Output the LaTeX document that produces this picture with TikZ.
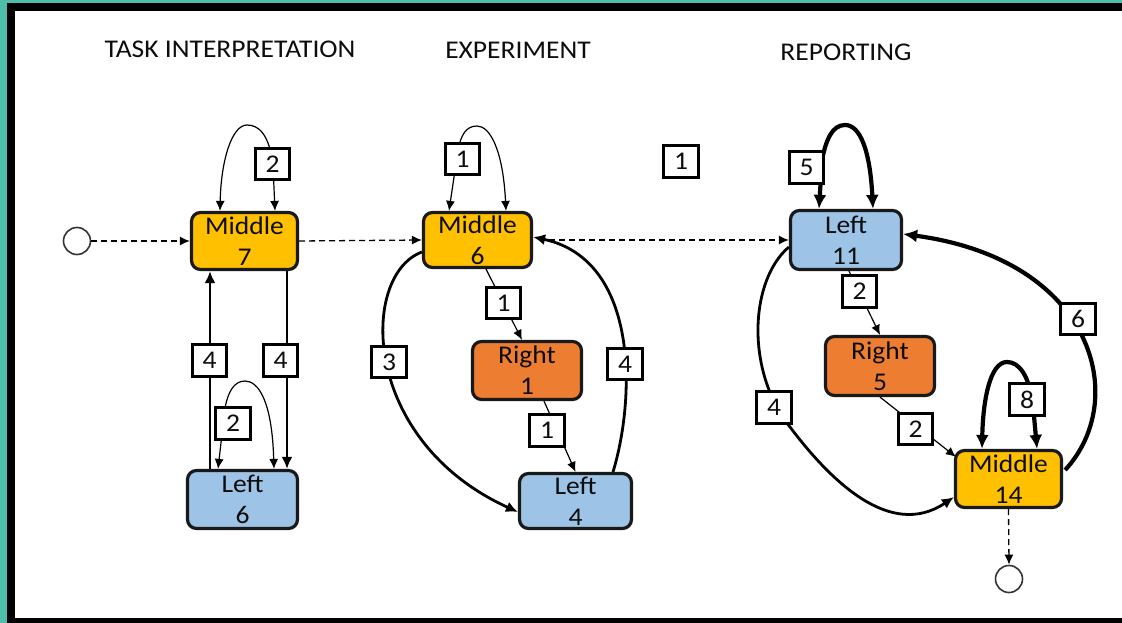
\documentclass[tikz,border=0pt]{standalone}
\usepackage{fontspec}
\setmainfont{Carlito}[FakeStretch=1.08]
\usetikzlibrary{arrows.meta,calc}
\definecolor{teal1}{HTML}{4DBEAA}
\definecolor{gold}{HTML}{FFC000}
\definecolor{orng}{HTML}{ED7D31}
\definecolor{sky}{HTML}{9DC3E6}
\begin{document}
\begin{tikzpicture}[x=1pt,y=-1pt,
  every node/.style={font=\fontsize{25.5}{31}\selectfont, text=black!95},
  state/.style={draw=black!90, line width=3.2pt, rounded corners=9pt, align=center, inner sep=0pt},
  lab/.style={draw=black, line width=2.6pt, fill=white, minimum width=34.5pt, minimum height=31.5pt, inner sep=0pt},
  endpt/.style={circle, draw=black!80, line width=1.6pt, minimum size=27pt, inner sep=0pt, fill=white},
  tw/.style={line width=1.2pt, -{Latex[length=10pt,width=9pt]}},
  twb/.style={line width=1.2pt, {Latex[length=10pt,width=9pt]}-{Latex[length=10pt,width=9pt]}},
  md/.style={line width=2.8pt, -{Latex[length=12pt,width=11pt]}},
  tk/.style={line width=4.2pt, -{Latex[length=14pt,width=13pt]}},
  tkb/.style={line width=4.2pt, {Latex[length=14pt,width=13pt]}-{Latex[length=14pt,width=13pt]}},
  dsh/.style={line width=1.3pt, dash pattern=on 6pt off 4pt, -{Latex[length=10pt,width=9pt]}}
]
\useasboundingbox (0,0) rectangle (1122,623);
\fill[teal1] (0,0) rectangle (1122,623);
\fill[black] (7,3) rectangle (1122,623);
\fill[white] (15,11) rectangle (1122,618);

% titles
\node (t1) at (230,49) {TASK INTERPRETATION};
\node (t2) at (518,50) {EXPERIMENT};
\node (t3) at (846,52) {REPORTING};

% states
\node[endpt] (s) at (77,241) {};
\node[state, fill=gold, minimum width=106pt, minimum height=57pt] (m7) at (244.5,241) {Middle\\7};
\node[state, fill=sky, minimum width=110pt, minimum height=58pt] (l6) at (242.5,499.5) {Left\\6};
\node[state, fill=gold, minimum width=108pt, minimum height=55pt] (m6) at (477.5,240) {Middle\\6};
\node[state, fill=orng, minimum width=109pt, minimum height=58pt] (r1) at (527,370.5) {Right\\1};
\node[state, fill=sky, minimum width=112pt, minimum height=55pt] (l4) at (575.5,501) {Left\\4};
\node[state, fill=sky, minimum width=111pt, minimum height=59pt] (l11) at (846,240) {Left\\11};
\node[state, fill=orng, minimum width=109pt, minimum height=59pt] (r5) at (880,366) {Right\\5};
\node[state, fill=gold, minimum width=106pt, minimum height=57pt] (m14) at (1008.5,479) {Middle\\14};
\node[endpt] (e) at (1009,579) {};

% dashed flow
\draw[dsh] (s) -- (m7.west);
\draw[dsh] (m7.east) -- (m6.west);
\draw[dsh] ($(m6.east)+(6,0)$) -- (l11.west);
\draw[dsh] (m14.south) -- (e.north);

% task interpretation
\draw[twb] ($(m7.north)+(30.5,0)$) -- (273,165) .. controls (269,133) and (258,125) .. (247,125) .. controls (232,125) and (221,160) .. ($(m7.north)+(-24.5,0)$);
\draw[md] ($(l6.north)+(-32.5,0)$) -- ($(m7.south)+(-34.5,0)$);
\draw[md] ($(m7.south)+(42.5,0)$) -- ($(l6.north)+(44.5,0)$);
\draw[twb] ($(l6.north)+(31.5,0)$) .. controls (272,400) and (258,381) .. (245,381) .. controls (234,381) and (228,392) .. (225,408) -- ($(l6.north)+(-24.5,0)$);

% experiment
\draw[twb] ($(m6.north)+(28.5,0)$) .. controls (503,150) and (490,126) .. (477,126) .. controls (466,126) and (461,135) .. (458,150) -- ($(m6.north)+(-28.5,0)$);
\draw[tw] ($(m6.south)+(8.5,0)$) -- ($(r1.north)+(-5,0)$);
\draw[tw] ($(r1.south)+(17,0)$) -- (l4.north);
\draw[md] ($(m6.west)+(0,12)$) .. controls (360,275) and (360,440) .. ($(l4.west)+(0,11)$);
\draw[md] ($(l4.north)+(37.5,0)$) .. controls (635,400) and (640,260) .. ($(m6.east)+(0,-3)$);

% reporting
\draw[tkb] ($(l11.north)+(27,0)$) .. controls (870,150) and (860,125) .. (845,125) .. controls (832,125) and (826,140) .. (822,160) -- ($(l11.north)+(-27,0)$);
\draw[tw] ($(l11.south)+(3,0)$) -- (r5.north);
\draw[tw] (r5.south) -- ($(m14.north west)+(2,8)$);
\draw[tkb] ($(m14.north)+(28.5,0)$) -- (1033,405) .. controls (1029,375) and (1019,362) .. (1007,362) .. controls (990,362) and (983,400) .. ($(m14.north)+(-26.5,0)$);
\draw[tk] ($(m14.east)+(2,-9)$) .. controls (1130,400) and (1095,260) .. ($(l11.east)+(0,-6)$);
\draw[md] ($(l11.west)+(0,7)$) .. controls (750,280) and (745,370) .. (790,427) .. controls (830,480) and (890,540) .. ($(m14.south west)+(0,-12)$);

% labels
\node[lab] (a1) at (272.5,164) {2};
\node[lab] (a2) at (209.5,360.5) {4};
\node[lab] (a3) at (280.5,360.5) {4};
\node[lab] (a4) at (233,423.5) {2};
\node[lab] (b1) at (462.5,159) {1};
\node[lab] (b2) at (503.5,303) {1};
\node[lab] (b3) at (547,430.5) {1};
\node[lab] (b4) at (389,362) {3};
\node[lab] (b5) at (625,364) {4};
\node[lab] (b6) at (681,161.5) {1};
\node[lab] (c1) at (806.5,167.5) {5};
\node[lab] (c2) at (859.5,291.5) {2};
\node[lab] (c3) at (915.5,429) {2};
\node[lab] (c4) at (1027,399.5) {8};
\node[lab] (c5) at (1078,319) {6};
\node[lab] (c6) at (774,407.5) {4};
\end{tikzpicture}
\end{document}
